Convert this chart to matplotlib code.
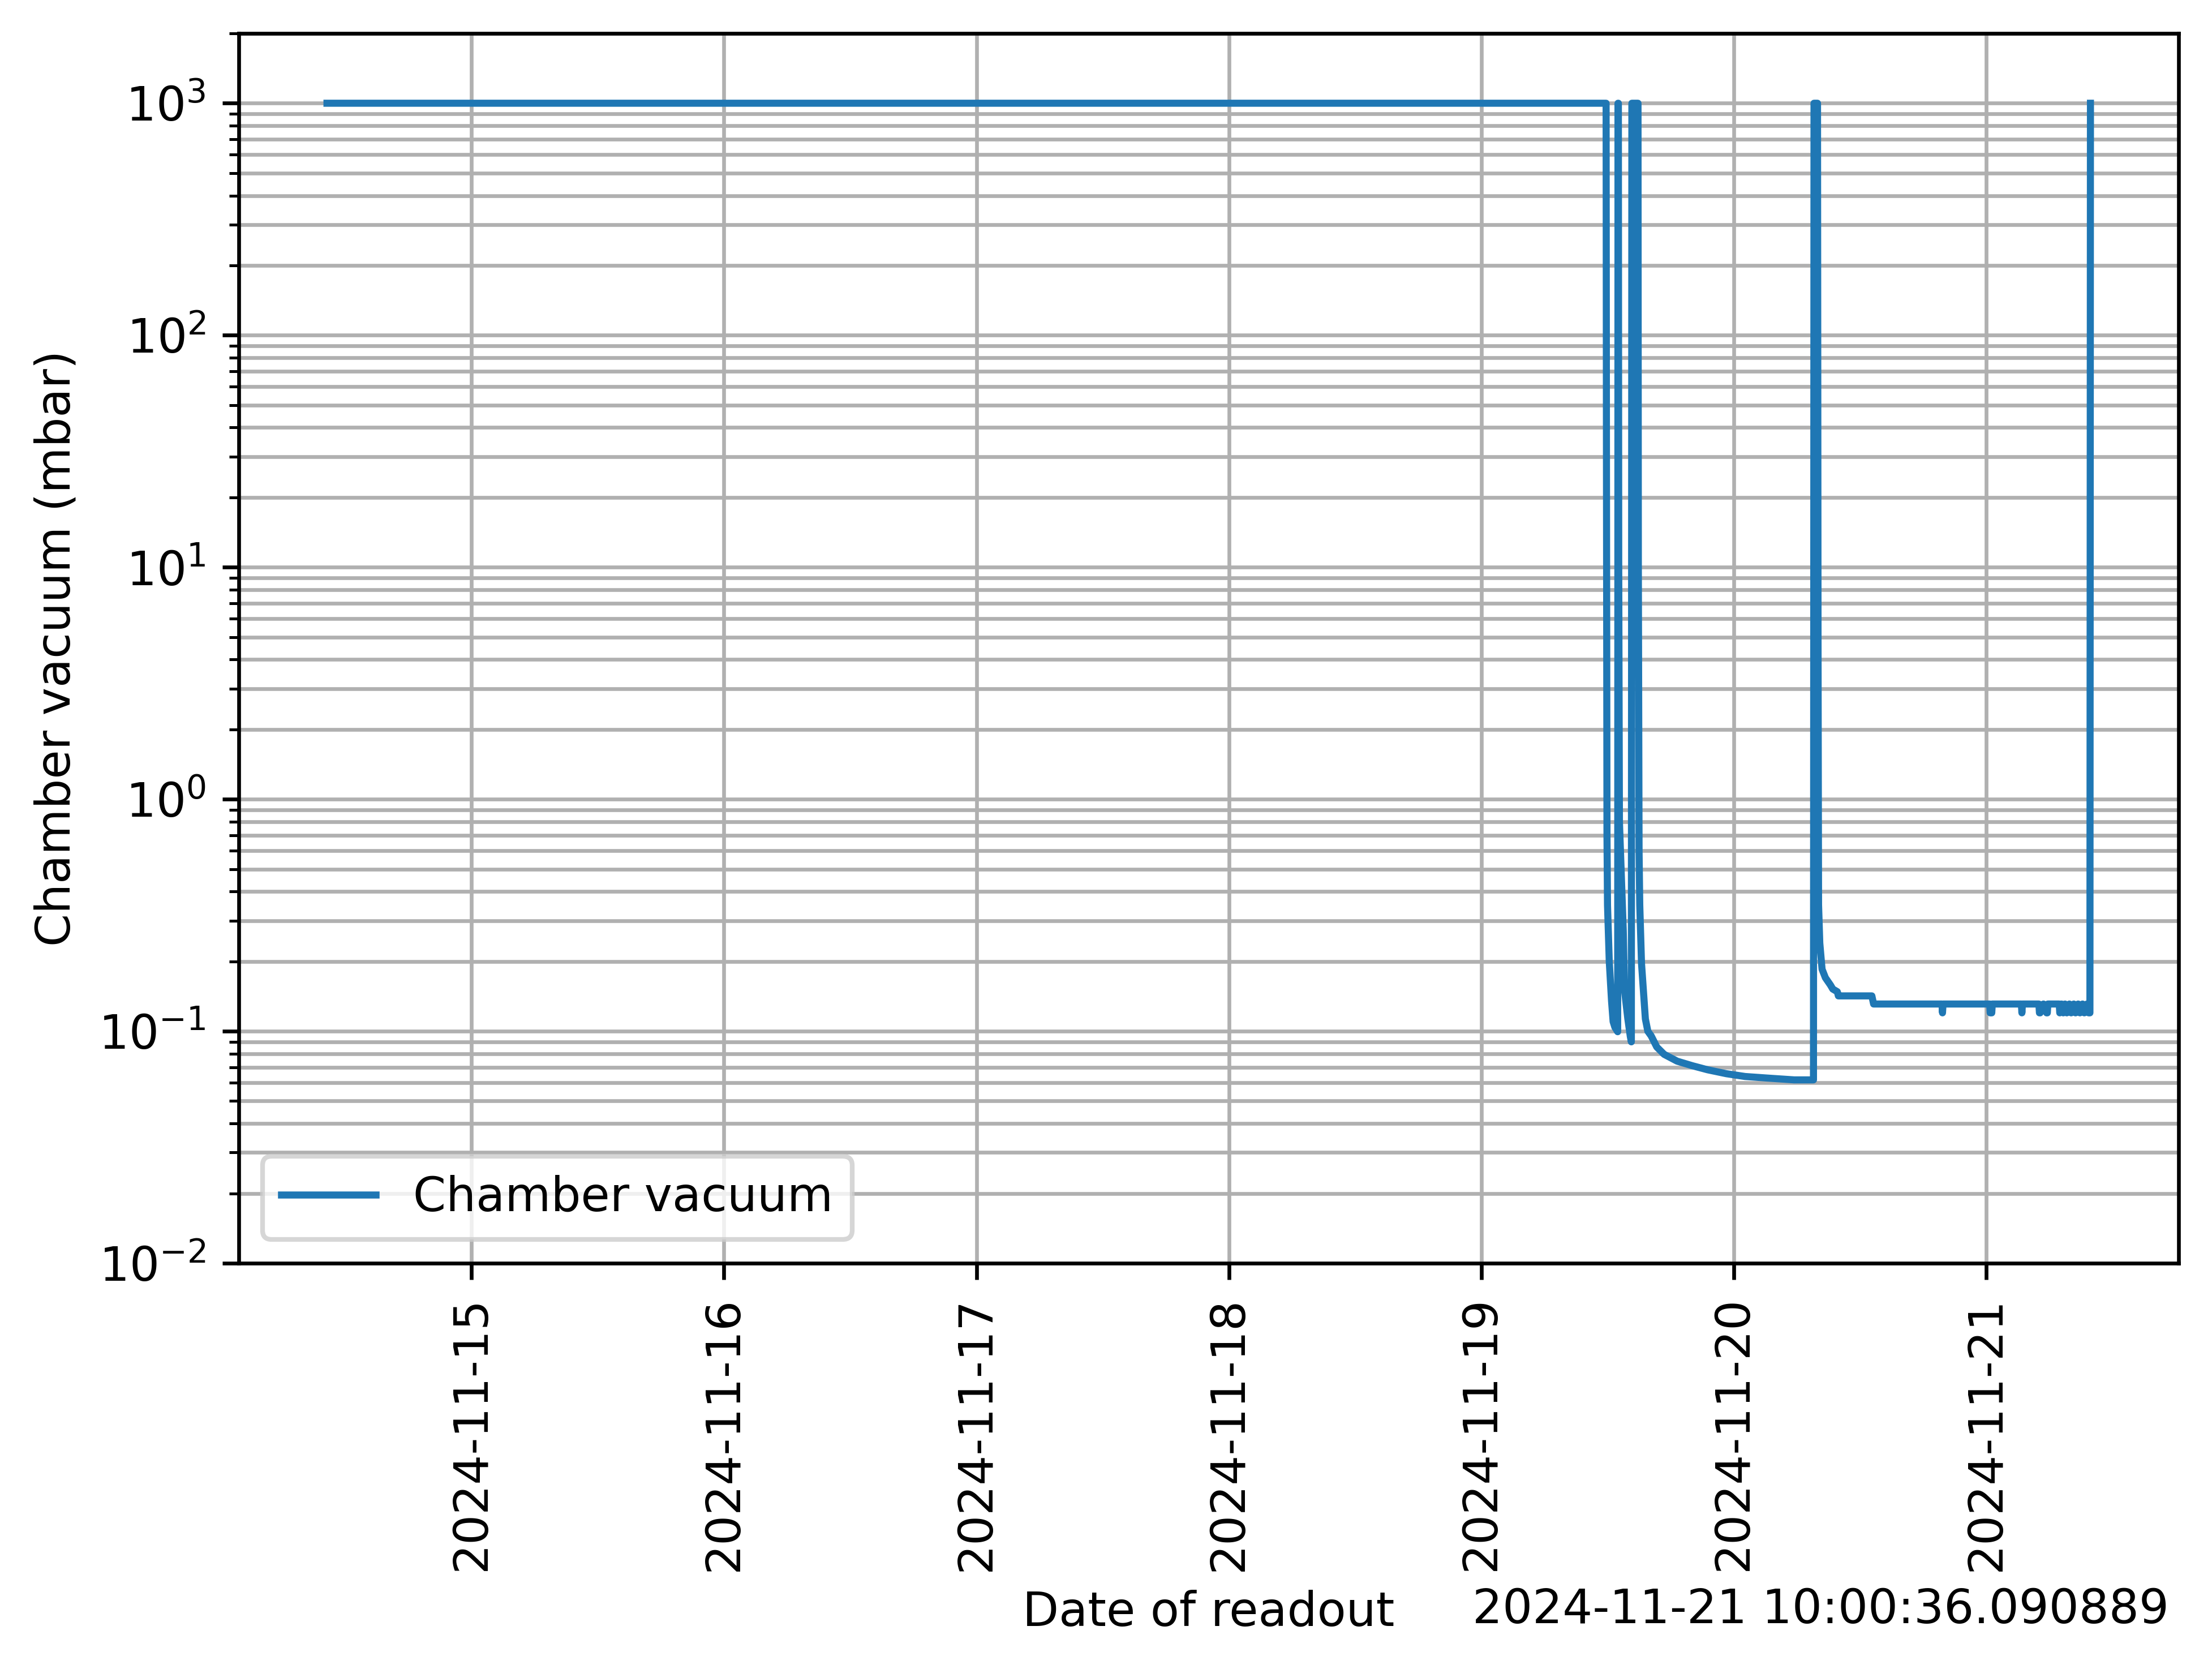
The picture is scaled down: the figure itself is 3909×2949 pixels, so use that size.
import pandas as pd
import matplotlib
matplotlib.use("Agg")
import matplotlib.pyplot as plt
import matplotlib.dates as mdates

# Chamber vacuum readout (mbar)
readout_times = [
    "2024-11-14 10:15", "2024-11-19 11:52", "2024-11-19 11:54", "2024-11-19 11:57",
    "2024-11-19 12:00", "2024-11-19 12:10", "2024-11-19 12:23", "2024-11-19 12:32",
    "2024-11-19 12:42", "2024-11-19 12:58", "2024-11-19 13:00", "2024-11-19 13:02",
    "2024-11-19 13:04", "2024-11-19 13:08", "2024-11-19 13:30", "2024-11-19 13:37",
    "2024-11-19 13:56", "2024-11-19 14:10", "2024-11-19 14:16", "2024-11-19 14:19",
    "2024-11-19 14:54", "2024-11-19 14:56", "2024-11-19 15:00", "2024-11-19 15:04",
    "2024-11-19 15:14", "2024-11-19 15:36", "2024-11-19 15:50", "2024-11-19 16:09",
    "2024-11-19 16:41", "2024-11-19 17:23", "2024-11-19 18:37", "2024-11-19 20:04",
    "2024-11-19 21:31", "2024-11-19 23:18", "2024-11-20 01:05", "2024-11-20 03:14",
    "2024-11-20 05:45", "2024-11-20 07:35", "2024-11-20 07:38", "2024-11-20 07:58",
    "2024-11-20 08:01", "2024-11-20 08:04", "2024-11-20 08:11", "2024-11-20 08:24",
    "2024-11-20 08:43", "2024-11-20 09:12", "2024-11-20 09:25", "2024-11-20 09:51",
    "2024-11-20 09:57", "2024-11-20 13:08", "2024-11-20 13:18",
    "2024-11-20 19:48", "2024-11-20 19:51", "2024-11-20 19:54",
    "2024-11-21 00:20", "2024-11-21 00:23", "2024-11-21 00:32", "2024-11-21 00:35",
    "2024-11-21 03:21", "2024-11-21 03:24", "2024-11-21 03:27",
    "2024-11-21 05:01", "2024-11-21 05:04", "2024-11-21 05:08", "2024-11-21 05:27",
    "2024-11-21 05:45", "2024-11-21 05:49", "2024-11-21 05:52",
    "2024-11-21 06:57", "2024-11-21 07:00", "2024-11-21 07:10", "2024-11-21 07:20",
    "2024-11-21 07:30", "2024-11-21 07:40", "2024-11-21 07:55", "2024-11-21 08:05",
    "2024-11-21 08:20", "2024-11-21 08:30", "2024-11-21 08:45", "2024-11-21 08:55",
    "2024-11-21 09:10", "2024-11-21 09:20", "2024-11-21 09:35", "2024-11-21 09:45",
    "2024-11-21 09:52", "2024-11-21 09:55",
]
chamber_vacuum = [
    1000, 1000, 30, 0.7,
    0.35, 0.2, 0.135, 0.11,
    0.104, 0.0995, 1000, 1000,
    10, 0.8, 0.27, 0.15,
    0.113, 0.095, 0.09, 1000,
    1000, 10, 0.6, 0.35,
    0.196, 0.113, 0.1, 0.0955,
    0.0855, 0.0795, 0.0743, 0.071,
    0.0682, 0.0656, 0.0638, 0.0628,
    0.0617, 0.0617, 1000, 1000,
    5, 0.35, 0.24, 0.185,
    0.17, 0.158, 0.152, 0.148,
    0.142, 0.142, 0.131,
    0.131, 0.12, 0.131,
    0.131, 0.12, 0.12, 0.131,
    0.131, 0.12, 0.131,
    0.131, 0.12, 0.12, 0.131,
    0.12, 0.12, 0.131,
    0.131, 0.12, 0.131, 0.12,
    0.131, 0.12, 0.131, 0.12,
    0.131, 0.12, 0.131, 0.12,
    0.131, 0.12, 0.131, 0.12,
    0.12, 1000,
]
readout_stamp = "2024-11-21 10:00:36.090889"

t = pd.to_datetime(readout_times)

fig = plt.figure(figsize=(3909 / 600, 2949 / 600), dpi=600)
ax = fig.add_axes([0.10796, 0.24313, 0.87695, 0.73686])

ax.plot(t, chamber_vacuum, label="Chamber vacuum")
ax.set_yscale("log")
ax.set_ylim(1e-2, 2e3)

ax.xaxis.set_major_locator(mdates.DayLocator())
ax.xaxis.set_major_formatter(mdates.DateFormatter("%Y-%m-%d"))
ax.tick_params(axis="x", labelrotation=90)

ax.grid(which="both")
ax.set_ylabel("Chamber vacuum (mbar)")
ax.set_xlabel("Date of readout")
ax.legend(loc="lower left")

# timestamp of readout, next to the x label
ax.text(0.995, -0.2927, readout_stamp, transform=ax.transAxes,
        ha="right", va="baseline")

fig.savefig("out.png", dpi=600)
plt.close(fig)
